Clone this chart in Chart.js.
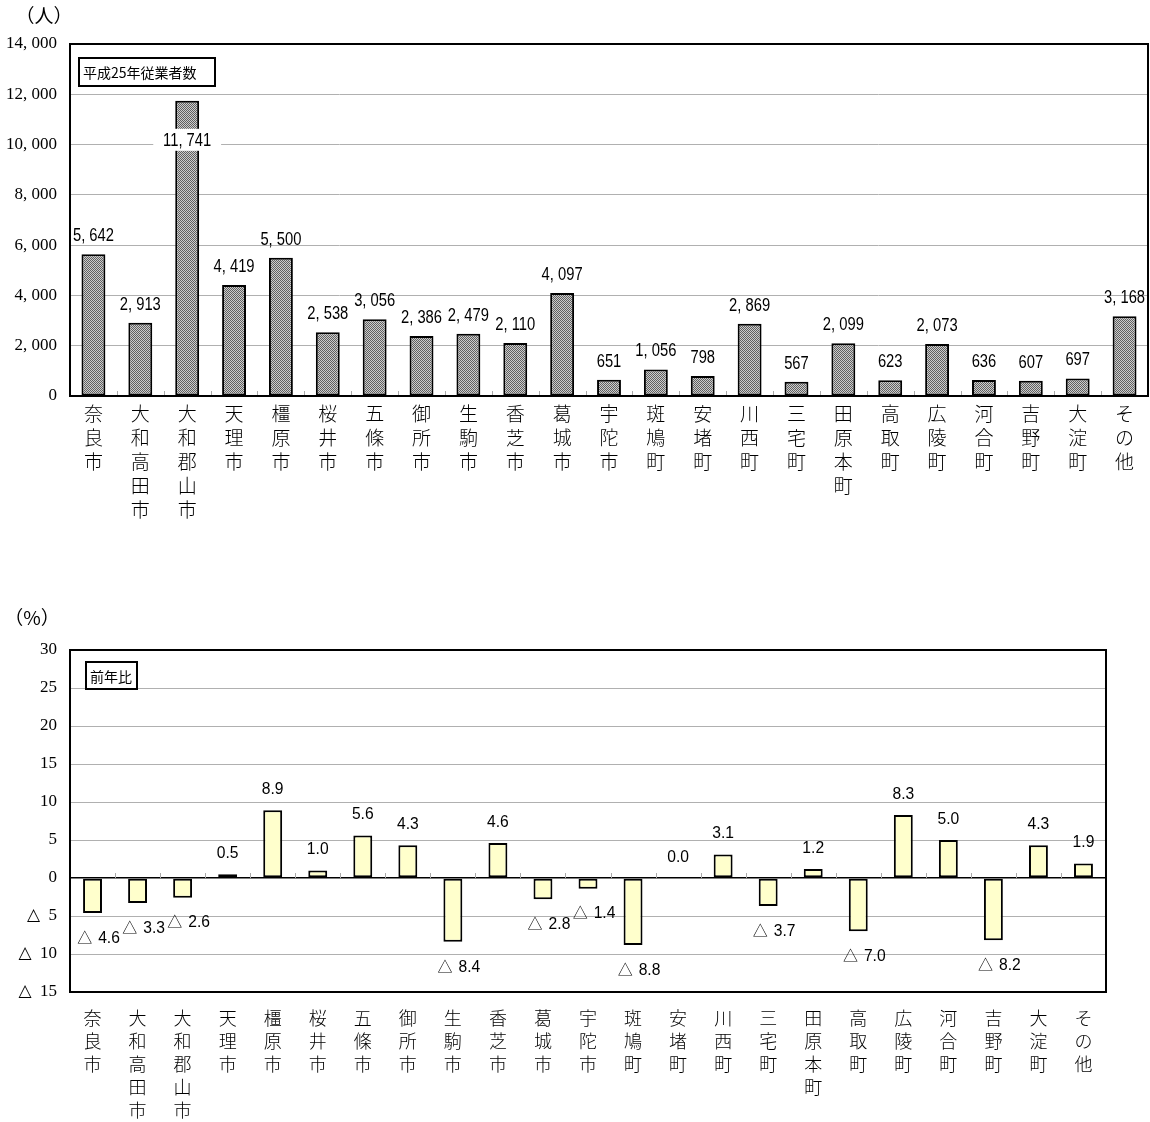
<!DOCTYPE html>
<html>
<head>
<meta charset="utf-8">
<script src="https://cdn.jsdelivr.net/npm/chart.js@4.4.0/dist/chart.umd.min.js"></script>
<style>
  body { margin: 0; background: #fff; }
  canvas { display: block; }
</style>
</head>
<body>
<canvas id="empChart" width="1150" height="560"></canvas>
<canvas id="ratioChart" width="1150" height="562"></canvas>
<script>
const areas = ['奈良市', '大和高田市', '大和郡山市', '天理市', '橿原市', '桜井市', '五條市', '御所市',
  '生駒市', '香芝市', '葛城市', '宇陀市', '斑鳩町', '安堵町', '川西町', '三宅町', '田原本町',
  '高取町', '広陵町', '河合町', '吉野町', '大淀町', 'その他'];
const employees = [5642, 2913, 11741, 4419, 5500, 2538, 3056, 2386, 2479, 2110, 4097, 651,
  1056, 798, 2869, 567, 2099, 623, 2073, 636, 607, 697, 3168];
const yoyChange = [-4.6, -3.3, -2.6, 0.5, 8.9, 1.0, 5.6, 4.3, -8.4, 4.6, -2.8, -1.4, -8.8,
  0.0, 3.1, -3.7, 1.2, -7.0, 8.3, 5.0, -8.2, 4.3, 1.9];
const empTickLabels = ['0', '2, 000', '4, 000', '6, 000', '8, 000', '10, 000', '12, 000', '14, 000'];
const ratioTickLabels = ['△  15', '△  10', '△  5', '0', '5', '10', '15', '20', '25', '30'];

const serif = '"Liberation Serif", "DejaVu Serif", serif';
const cjk = '"Noto Sans CJK JP", sans-serif';
const sans = '"Liberation Sans", Arial, sans-serif';

// dotted gray fill like the original
function makePattern() {
  const c = document.createElement('canvas');
  c.width = 2; c.height = 2;
  const p = c.getContext('2d');
  p.fillStyle = '#cccccc'; p.fillRect(0, 0, 2, 2);
  p.fillStyle = '#606060'; p.fillRect(0, 0, 1, 1); p.fillRect(1, 1, 1, 1);
  return p.createPattern(c, 'repeat');
}

function frameAndTicks(chart, zeroY) {
  const { ctx, chartArea: a } = chart;
  const xs = chart.scales.x;
  ctx.save();
  ctx.strokeStyle = '#aaa';
  ctx.lineWidth = 1;
  for (let i = 1; i < areas.length; i++) {
    const x = Math.round((xs.getPixelForTick(i - 1) + xs.getPixelForTick(i)) / 2) + 0.5;
    ctx.beginPath();
    ctx.moveTo(x, zeroY - 5);
    ctx.lineTo(x, zeroY);
    ctx.stroke();
  }
  ctx.strokeStyle = '#000';
  ctx.lineWidth = 2;
  ctx.strokeRect(a.left, a.top, a.right - a.left, a.bottom - a.top);
  ctx.restore();
}

function boxLabel(ctx, text, x, y, w, h) {
  ctx.save();
  ctx.fillStyle = '#fff';
  ctx.fillRect(x, y, w, h);
  ctx.strokeStyle = '#000';
  ctx.lineWidth = 2;
  ctx.strokeRect(x, y, w, h);
  ctx.fillStyle = '#000';
  ctx.font = '14px ' + cjk;
  ctx.textBaseline = 'middle';
  ctx.fillText(text, x + 4, y + h / 2 + 1);
  ctx.restore();
}

const empPlugin = {
  id: 'empDecor',
  afterDatasetsDraw(chart) {
    const { ctx, chartArea: a } = chart;
    frameAndTicks(chart, a.bottom);
    const meta = chart.getDatasetMeta(0);
    ctx.save();
    ctx.fillStyle = '#000';
    ctx.textAlign = 'center';
    ctx.textBaseline = 'middle';
    ctx.font = '18px ' + sans;
    meta.data.forEach((bar, i) => {
      const t = employees[i].toLocaleString('en-US').replace(',', ', ');
      let y = bar.y - 19;
      const inside = bar.y - a.top < 60;
      if (inside) y = bar.y + 39;
      ctx.save();
      ctx.translate(bar.x, y);
      ctx.scale(0.82, 1);
      if (inside) {
        const w = ctx.measureText(t).width + 24;
        ctx.fillStyle = '#fff';
        ctx.fillRect(-w / 2, -11, w, 22);
        ctx.fillStyle = '#000';
      }
      ctx.fillText(t, 0, 1);
      ctx.restore();
    });
    ctx.font = '19px ' + cjk;
    ctx.fillText('（人）', 44, 16);
    ctx.restore();
    boxLabel(ctx, '平成25年従業者数', 79, 58, 136, 28);
  }
};

const ratioPlugin = {
  id: 'ratioDecor',
  afterDatasetsDraw(chart) {
    const { ctx } = chart;
    const zeroY = chart.scales.y.getPixelForValue(0);
    frameAndTicks(chart, zeroY);
    const meta = chart.getDatasetMeta(0);
    ctx.save();
    ctx.fillStyle = '#000';
    ctx.textBaseline = 'middle';
    meta.data.forEach((bar, i) => {
      const v = yoyChange[i];
      if (v < 0) {
        const num = Math.abs(v).toFixed(1);
        ctx.font = '17px ' + sans;
        const nw = ctx.measureText(num).width * 0.92;
        const total = 14 + 7 + nw;
        const x0 = bar.x + 6 - total / 2;
        const y = bar.y + 24;
        ctx.textAlign = 'left';
        ctx.font = '15px ' + cjk;
        ctx.fillText('△', x0, y);
        ctx.font = '17px ' + sans;
        ctx.save();
        ctx.translate(x0 + 21, y + 1);
        ctx.scale(0.92, 1);
        ctx.fillText(num, 0, 0);
        ctx.restore();
      } else {
        ctx.textAlign = 'center';
        ctx.font = '17px ' + sans;
        ctx.save();
        ctx.translate(bar.x, Math.min(bar.y, zeroY) - 21);
        ctx.scale(0.92, 1);
        ctx.fillText(v.toFixed(1), 0, 0);
        ctx.restore();
      }
    });
    ctx.textAlign = 'center';
    ctx.font = '19px ' + cjk;
    ctx.fillText('（%）', 32, 58);
    ctx.restore();
    boxLabel(ctx, '前年比', 86, 102, 51, 27);
  }
};

function xAxis(pad, lineH, height, size) {
  return {
    grid: { display: false, drawTicks: false },
    border: { display: false },
    ticks: {
      color: '#000', padding: pad, autoSkip: false, maxRotation: 0,
      font: { family: cjk, size: size, weight: 300, lineHeight: lineH + 'px' }
    },
    afterFit(s) { s.height = height; }
  };
}

new Chart(document.getElementById('empChart'), {
  type: 'bar',
  data: {
    labels: areas.map((s) => [...s]),
    datasets: [{
      data: employees,
      backgroundColor: makePattern(),
      borderColor: '#000',
      borderWidth: 2,
      borderSkipped: false,
      barPercentage: 0.51,
      categoryPercentage: 1
    }]
  },
  options: {
    responsive: false,
    animation: false,
    layout: { padding: { left: 0, right: 2, top: 44, bottom: 0 } },
    plugins: { legend: { display: false }, tooltip: { enabled: false } },
    scales: {
      x: xAxis(6, 24, 164, 19),
      y: {
        min: 0, max: 14000,
        grid: { color: '#b0b0b0', drawTicks: false },
        border: { display: false },
        ticks: {
          stepSize: 2000, color: '#000', padding: 13,
          font: { family: serif, size: 17 },
          callback: (v, i) => empTickLabels[i]
        },
        afterFit(s) { s.width = 70; }
      }
    }
  },
  plugins: [empPlugin]
});

new Chart(document.getElementById('ratioChart'), {
  type: 'bar',
  data: {
    labels: areas.map((s) => [...s]),
    datasets: [{
      data: yoyChange,
      backgroundColor: '#ffffcc',
      borderColor: '#000',
      borderWidth: 2,
      borderSkipped: false,
      barPercentage: 0.42,
      categoryPercentage: 1
    }]
  },
  options: {
    responsive: false,
    animation: false,
    layout: { padding: { left: 0, right: 44, top: 90, bottom: 0 } },
    plugins: { legend: { display: false }, tooltip: { enabled: false } },
    scales: {
      x: xAxis(15, 23, 130, 18),
      y: {
        min: -15, max: 30,
        grid: {
          color: (c) => (c.tick && c.tick.value === 0 ? '#000' : '#b0b0b0'),
          lineWidth: (c) => (c.tick && c.tick.value === 0 ? 1.5 : 1),
          drawTicks: false
        },
        border: { display: false },
        ticks: {
          stepSize: 5, color: '#000', padding: 13,
          font: { family: serif, size: 17 },
          callback: (v, i) => ratioTickLabels[i]
        },
        afterFit(s) { s.width = 70; }
      }
    }
  },
  plugins: [ratioPlugin]
});
</script>
</body>
</html>
